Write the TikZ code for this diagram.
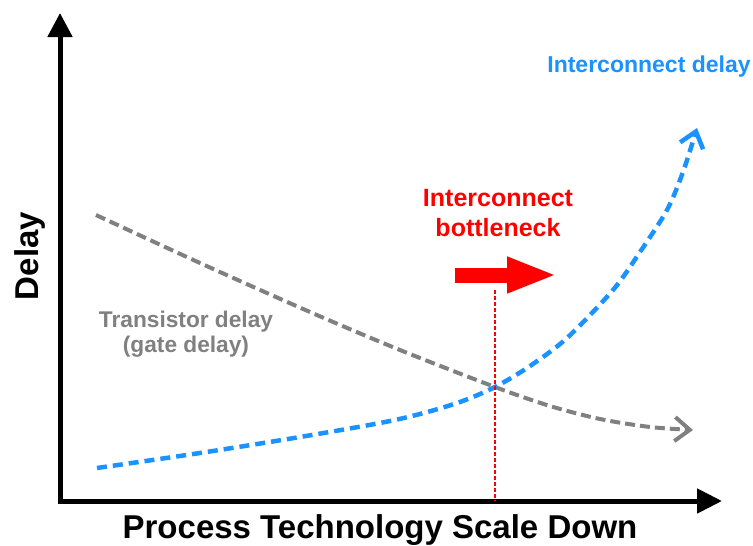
\documentclass[tikz,border=0pt]{standalone}
\usepackage{fontspec}
\setmainfont{Liberation Sans}
\usepackage{xcolor}
\usetikzlibrary{arrows.meta}

\definecolor{wireblue}{RGB}{26,146,255}
\definecolor{gategray}{RGB}{128,128,128}

\begin{document}
\begin{tikzpicture}
      [ x=1pt, y=-1pt, inner sep=0pt,
        axis/.style={line width=5pt, line join=miter,
          {Triangle[length=24pt,width=24pt]}-{Triangle[length=25pt,width=24pt]}},
        trend/.style={line width=4pt, dash pattern=on 10pt off 5pt,
          -{Straight Barb[length=15pt,width=24pt]}},
        bigtext/.style={font=\bfseries\fontsize{33}{40}\selectfont},
        tag/.style 2 args={align=center, font=\bfseries\fontsize{#1}{#2}\selectfont}
      ]
      \useasboundingbox (0,0) rectangle (753,546);

      \coordinate (ytip)   at (60,13);
      \coordinate (origin) at (60,501);
      \coordinate (xtip)   at (722,501);
      \coordinate (cross)  at (495,387);
      \coordinate (marker) at (495,290);
      \coordinate (shiftA) at (455,275);
      \coordinate (shiftB) at (557,275);

      % axes
      \draw[axis] (ytip) -- (origin) -- (xtip);
      \node[bigtext, rotate=90, anchor=base] (ylabel) at (38,256) {Delay};
      \node[bigtext, anchor=base]            (xlabel) at (380,538) {Process Technology Scale Down};

      % curves
      \draw[trend, gategray] plot[smooth, tension=0.5] coordinates
            {(96,215) (200,263) (310,312) (400,350) (cross) (550,406) (600,419)
             (650,427) (693,430)};
      \draw[trend, wireblue, line width=4.5pt, dash pattern=on 10pt off 6pt]
            plot[smooth, tension=0.5] coordinates
            {(97,468) (200,453) (300,437) (380,423) (420,414) (460,402) (cross)
             (530,366) (567,338) (613,290) (640,252) (667,210) (683,172) (697,128)};

      % bottleneck
      \draw[red, line width=1.5pt, dash pattern=on 4pt off 2pt] (marker) -- (cross |- origin);
      \draw[red, line width=15pt, -{Triangle[length=50pt,width=33pt]}] (shiftA) -- (shiftB);

      \node[tag={25}{30}, text=red] (bneck) at (498,213) {Interconnect\\bottleneck};
      \node[tag={23}{23}, text=wireblue, anchor=base] (wlabel) at (649,72) {Interconnect delay};
      \node[tag={22.7}{25}, text=gategray] (glabel) at (186,334) {Transistor delay\\(gate delay)};
\end{tikzpicture}
\end{document}
